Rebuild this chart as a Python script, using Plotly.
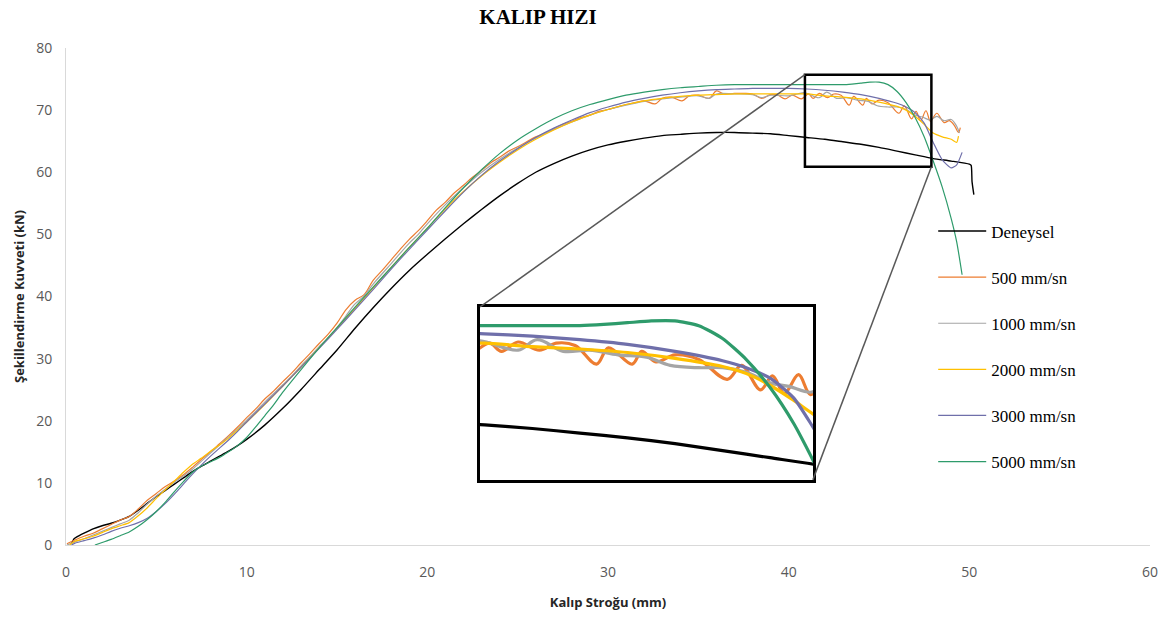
import plotly.graph_objects as go

# Force (kN) versus punch stroke (mm) for the experiment and five die speeds
deneysel = [(0.3, 0.2), (0.45, 1.0), (0.6, 1.3), (1, 1.9), (1.5, 2.6), (2, 3.1), (2.5, 3.5), (3, 4.0),
            (3.5, 4.6), (4, 5.6), (4.5, 6.7), (5, 7.8), (5.5, 8.8), (6, 9.8), (6.5, 10.8), (7, 11.8),
            (7.5, 12.7), (8, 13.5), (8.5, 14.3), (9, 15.1), (9.5, 16.0), (10, 17.0), (11, 19.3),
            (12, 22.0), (13, 25.0), (14, 28.2), (15, 31.4), (16, 34.9), (17, 38.2), (18, 41.3),
            (19, 44.2), (20, 46.8), (21, 49.3), (22, 51.7), (23, 54.0), (24, 56.2), (25, 58.2),
            (26, 60.0), (27, 61.4), (28, 62.6), (29, 63.6), (30, 64.4), (31, 65.0), (32, 65.5),
            (33, 65.9), (34, 66.1), (35, 66.3), (36, 66.4), (37, 66.4), (38, 66.3), (39, 66.2),
            (40, 65.9), (41, 65.6), (42, 65.3), (43, 64.9), (44, 64.5), (45, 64.0), (46, 63.4),
            (47, 62.8), (48, 62.2), (49, 61.8), (50, 61.3), (50.1, 61.1), (50.15, 58.5), (50.25, 56.4)]

hiz_500 = [(0.05, 0.2), (0.5, 0.8), (1, 1.4), (1.5, 1.9), (2, 2.6), (2.5, 3.3), (3, 4.0), (3.5, 4.6),
           (4, 5.8), (4.5, 7.2), (5, 8.3), (5.5, 9.4), (6, 10.3), (6.5, 11.3), (7, 12.5), (7.5, 13.8),
           (8, 15.0), (8.5, 16.3), (9, 17.6), (9.5, 19.0), (10, 20.5), (10.5, 21.9), (11, 23.5),
           (11.5, 24.8), (12, 26.3), (12.5, 27.7), (13, 29.3), (13.5, 30.8), (14, 32.4), (14.5, 33.9),
           (15, 35.7), (15.5, 37.9), (16, 39.4), (16.5, 40.3), (17, 42.6), (17.5, 44.2), (18, 45.9),
           (18.5, 47.6), (19, 49.2), (19.5, 50.6), (20, 52.2), (20.5, 53.9), (21, 55.2), (21.5, 56.7),
           (22, 57.9), (22.5, 59.2), (23, 60.3), (23.5, 61.5), (24, 62.4), (24.5, 63.4), (25, 64.1),
           (25.5, 64.9), (26, 65.7), (26.5, 66.3), (27, 67.0), (27.5, 67.7), (28, 68.2), (28.5, 68.8),
           (29, 69.2), (29.5, 69.8), (30, 70.1), (30.5, 70.5), (31, 70.9), (31.5, 71.2), (32, 71.5),
           (32.6, 71.0), (33, 71.9), (33.5, 72.1), (34.1, 71.5), (34.5, 72.3), (35, 72.4), (35.6, 71.9),
           (36, 73.1), (36.4, 72.6), (37, 72.7), (37.5, 72.7), (38, 72.6), (38.5, 71.9), (39, 72.5),
           (39.4, 72.4), (39.8, 71.8), (40.2, 72.4), (40.7, 71.8), (41.1, 72.6), (41.35, 71.9),
           (41.7, 72.7), (42.15, 72.0), (42.5, 72.6), (42.9, 72.4), (43.35, 70.8), (43.6, 72.2),
           (44.1, 70.8), (44.3, 71.9), (44.6, 71.0), (45.0, 71.6), (45.5, 71.2), (46.1, 69.5),
           (46.4, 70.7), (46.8, 68.6), (47.05, 69.8), (47.3, 68.3), (47.6, 69.9), (47.85, 68.2),
           (48.2, 69.5), (48.6, 68.0), (48.9, 68.3), (49.2, 67.4), (49.4, 66.4), (49.5, 67.2)]

hiz_1000 = [(0.05, 0.0), (0.5, 0.5), (1, 1.0), (1.5, 1.6), (2, 2.2), (2.5, 2.8), (3, 3.4), (3.5, 4.0),
            (4, 5.2), (4.5, 6.6), (5, 7.9), (5.5, 9.0), (6, 10.1), (6.5, 11.1), (7, 12.2), (7.5, 13.5),
            (8, 14.8), (8.5, 16.1), (9, 17.4), (9.5, 18.7), (10, 20.1), (10.5, 21.5), (11, 23.0),
            (11.5, 24.4), (12, 25.8), (12.5, 27.2), (13, 28.8), (13.5, 30.3), (14, 31.9), (14.5, 33.3),
            (15, 35.0), (15.5, 36.9), (16, 38.8), (16.5, 40.1), (17, 42.0), (18, 45.3), (19, 48.6),
            (19.5, 50.0), (20, 51.7), (21, 54.8), (22, 57.5), (23, 60.0), (24, 62.1), (25, 63.9),
            (26, 65.5), (27, 66.9), (28, 68.1), (29, 69.2), (30, 70.1), (31, 70.8), (32, 71.4),
            (33, 71.8), (34, 72.1), (35, 72.3), (35.6, 71.9), (36, 72.6), (37, 72.6), (38, 72.5),
            (38.5, 72.0), (39, 72.4), (40, 72.3), (40.5, 72.6), (40.9, 72.8), (41.7, 72.0), (42.1, 72.9),
            (42.65, 71.9), (43.2, 72.0), (43.8, 71.6), (44.4, 71.4), (44.9, 70.7), (45.5, 70.5),
            (46.0, 70.5), (46.5, 70.1), (47.0, 69.2), (47.4, 68.9), (47.85, 68.4), (48.2, 69.0),
            (48.6, 68.3), (49.0, 68.5), (49.3, 67.4), (49.45, 66.3)]

hiz_2000 = [(0.2, 0.0), (0.5, 0.6), (1, 1.0), (1.5, 1.4), (2, 2.0), (2.5, 2.6), (3, 3.1), (3.5, 3.6),
            (4, 4.7), (4.5, 6.0), (5, 7.5), (5.5, 8.9), (6, 10.3), (6.5, 11.7), (7, 13.0), (7.5, 14.0),
            (8, 15.1), (8.5, 16.1), (9, 17.2), (9.5, 18.5), (10, 19.8), (11, 22.6), (12, 25.6),
            (13, 28.6), (14, 31.7), (15, 34.9), (16, 38.1), (17, 41.4), (18, 44.7), (19, 47.9),
            (20, 51.0), (21, 54.1), (22, 56.9), (23, 59.4), (24, 61.6), (25, 63.6), (26, 65.3),
            (27, 66.8), (28, 68.1), (29, 69.2), (30, 70.1), (31, 70.9), (32, 71.5), (33, 71.9),
            (34, 72.2), (35, 72.4), (36, 72.5), (37, 72.6), (38, 72.6), (39, 72.6), (40, 72.6),
            (41, 72.6), (42, 72.3), (43, 72.1), (44, 71.8), (45, 71.3), (46, 70.6), (46.5, 70.0),
            (47, 69.0), (47.5, 67.7), (48, 66.3), (48.5, 65.7), (49, 65.3), (49.3, 64.8), (49.4, 65.8)]

hiz_3000 = [(0.3, 0.0), (0.5, 0.3), (1, 0.7), (1.5, 1.1), (2, 1.6), (2.5, 2.2), (3, 2.7), (3.5, 3.1),
            (4, 3.6), (4.5, 4.3), (5, 5.4), (5.5, 6.7), (6, 8.2), (6.5, 9.8), (7, 11.4), (7.5, 12.9),
            (8, 14.3), (8.5, 15.6), (9, 16.9), (9.5, 18.3), (10, 19.8), (11, 22.7), (12, 25.6),
            (13, 28.6), (14, 31.6), (15, 34.7), (16, 37.9), (17, 41.1), (18, 44.4), (19, 47.6),
            (20, 50.7), (21, 53.8), (22, 56.8), (23, 59.5), (24, 61.8), (25, 63.8), (26, 65.6),
            (27, 67.1), (28, 68.4), (29, 69.6), (30, 70.5), (31, 71.3), (32, 71.9), (33, 72.4),
            (34, 72.8), (35, 73.1), (36, 73.3), (37, 73.4), (38, 73.5), (39, 73.5), (40, 73.5),
            (41, 73.4), (42, 73.2), (43, 72.9), (44, 72.5), (45, 71.9), (46, 71.1), (46.5, 70.5),
            (47, 69.6), (47.5, 67.9), (48, 64.8), (48.5, 62.0), (49, 60.7), (49.3, 61.2), (49.6, 63.2)]

hiz_5000 = [(1.6, 0.0), (2, 0.4), (2.5, 0.9), (3, 1.5), (3.5, 2.1), (4, 3.0), (4.5, 4.1), (5, 5.4),
            (5.5, 6.9), (6, 8.6), (6.5, 10.2), (7, 11.7), (7.5, 12.7), (8, 13.4), (8.5, 14.1), (9, 15.0),
            (9.5, 16.0), (10, 17.3), (10.5, 19.0), (11, 20.8), (11.5, 22.6), (12, 24.6), (13, 28.2),
            (14, 31.7), (15, 35.0), (16, 38.3), (17, 41.5), (18, 44.7), (19, 47.9), (20, 51.0),
            (21, 54.3), (22, 57.5), (23, 60.4), (24, 63.0), (25, 65.2), (26, 67.0), (27, 68.6),
            (28, 69.9), (29, 70.9), (30, 71.7), (31, 72.4), (32, 72.9), (33, 73.3), (34, 73.6),
            (35, 73.8), (36, 74.0), (37, 74.1), (38, 74.1), (39, 74.1), (40, 74.1), (41, 74.1),
            (42, 74.1), (43, 74.1), (43.5, 74.2), (44, 74.35), (44.5, 74.5), (45, 74.5), (45.5, 74.1),
            (46, 73.0), (46.5, 71.2), (47, 68.8), (47.5, 65.7), (48, 61.8), (48.5, 57.6), (49, 52.5),
            (49.3, 48.8), (49.6, 43.5)]

series_names = ["Deneysel", "500 mm/sn", "1000 mm/sn", "2000 mm/sn", "3000 mm/sn", "5000 mm/sn"]
series_data = [deneysel, hiz_500, hiz_1000, hiz_2000, hiz_3000, hiz_5000]
series_colors = ["#000000", "#ED7D31", "#A5A5A5", "#FFC000", "#6F6FAA", "#2E9B6B"]
main_widths = [1.4, 1.2, 1.2, 1.2, 1.2, 1.2]
inset_widths = [3.2, 3.2, 3.2, 3.2, 3.2, 3.2]
smooth = [0.6, 1.0, 1.0, 0.6, 0.6, 0.6]

x_ticks = [0, 10, 20, 30, 40, 50, 60]
y_ticks = [0, 10, 20, 30, 40, 50, 60, 70, 80]

# Magnified window (mm, kN) and where the enlarged view sits on the page
zoom_x = [40.9, 47.9]
zoom_y = [60.9, 75.7]
inset_dom_x = [0.382, 0.689]
inset_dom_y = [0.131, 0.479]

X_RANGE = [0, 60]
Y_RANGE = [0, 80]

fig = go.Figure()

# Inset traces first so the legend lists only the main curves
for name, pts, col, w, s in zip(series_names, series_data, series_colors, inset_widths, smooth):
    xs, ys = zip(*pts)
    fig.add_trace(go.Scatter(x=xs, y=ys, mode="lines", name=name, showlegend=False,
                             line=dict(color=col, width=w, shape="spline", smoothing=s),
                             xaxis="x2", yaxis="y2", hoverinfo="skip"))

for i, (name, pts, col, w, s) in enumerate(zip(series_names, series_data, series_colors, main_widths, smooth)):
    xs, ys = zip(*pts)
    fig.add_trace(go.Scatter(x=xs, y=ys, mode="lines", name=name, legendgroup=f"g{i}",
                             line=dict(color=col, width=w, shape="spline", smoothing=s),
                             xaxis="x", yaxis="y"))

tick_font = dict(family="Open Sans", size=14, color="#595959")
title_font = dict(family="Open Sans", size=13, color="#262626")

fig.update_layout(
    width=1173, height=619,
    margin=dict(l=66, r=23, t=48, b=74),
    paper_bgcolor="white", plot_bgcolor="rgba(0,0,0,0)",
    title=dict(text="<b>KALIP HIZI</b>", x=538 / 1173, xref="container", xanchor="center",
               y=1 - 17 / 619, yref="container", yanchor="middle",
               font=dict(family="Liberation Serif", size=21, color="black")),
    xaxis=dict(range=X_RANGE, tickvals=x_ticks, showline=True, linecolor="#D9D9D9", linewidth=1,
               showgrid=False, zeroline=False, ticks="", tickfont=tick_font, ticklabelstandoff=14,
               title=dict(text="<b>Kalıp Stroğu (mm)</b>", font=title_font, standoff=18)),
    yaxis=dict(range=Y_RANGE, tickvals=y_ticks, showline=True, linecolor="#D9D9D9", linewidth=1,
               showgrid=False, zeroline=False, ticks="", tickfont=tick_font, ticklabelstandoff=10,
               title=dict(text="<b>Şekillendirme Kuvveti (kN)</b>", font=title_font, standoff=8)),
    xaxis2=dict(domain=inset_dom_x, range=zoom_x, anchor="y2", showline=True, mirror=True,
                linecolor="black", linewidth=3, showgrid=False, zeroline=False,
                showticklabels=False, ticks=""),
    yaxis2=dict(domain=inset_dom_y, range=zoom_y, anchor="x2", showline=True, mirror=True,
                linecolor="black", linewidth=3, showgrid=False, zeroline=False,
                showticklabels=False, ticks=""),
    legend=dict(x=0.80, y=0.667, xanchor="left", yanchor="top", bgcolor="rgba(0,0,0,0)",
                font=dict(family="Liberation Serif", size=17, color="black"),
                tracegroupgap=21, itemwidth=48),
    showlegend=True,
)

# Outline of the magnified window on the main chart
fig.add_shape(type="rect", xref="x", yref="y", x0=zoom_x[0], x1=zoom_x[1], y0=zoom_y[0], y1=zoom_y[1],
              line=dict(color="black", width=2.5), layer="above")

# Leader lines from the window to the enlarged view
inset_left = X_RANGE[0] + inset_dom_x[0] * (X_RANGE[1] - X_RANGE[0])
inset_right = X_RANGE[0] + inset_dom_x[1] * (X_RANGE[1] - X_RANGE[0])
inset_top = Y_RANGE[0] + inset_dom_y[1] * (Y_RANGE[1] - Y_RANGE[0])
inset_bottom = Y_RANGE[0] + inset_dom_y[0] * (Y_RANGE[1] - Y_RANGE[0])
fig.add_shape(type="line", xref="x", yref="y", x0=zoom_x[0], y0=zoom_y[1], x1=inset_left, y1=inset_top,
              line=dict(color="#595959", width=1.5), layer="above")
fig.add_shape(type="line", xref="x", yref="y", x0=zoom_x[1], y0=zoom_y[0], x1=inset_right, y1=inset_bottom,
              line=dict(color="#595959", width=1.5), layer="above")

fig.write_html("out.html")
